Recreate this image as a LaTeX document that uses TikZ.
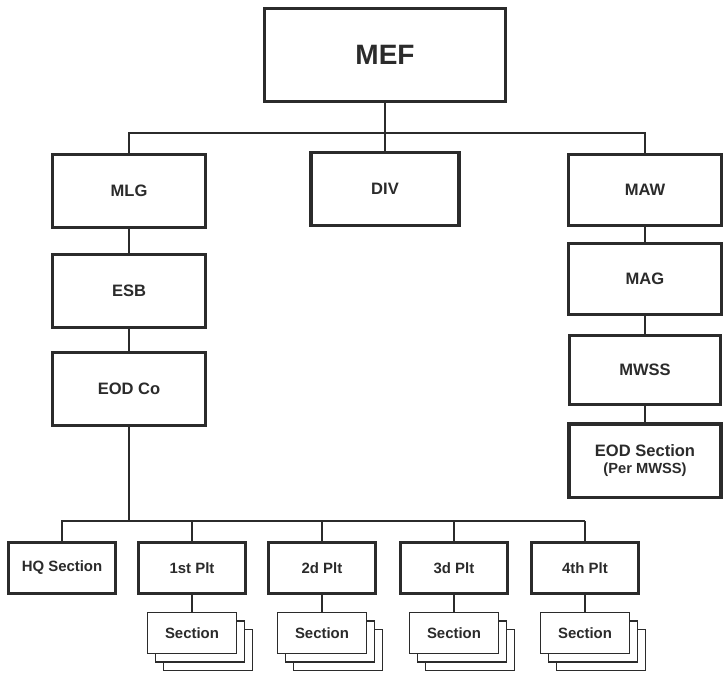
\documentclass[tikz,border=0pt]{standalone}
\usepackage{fontspec}
\setmainfont{Liberation Sans}
\definecolor{ink}{HTML}{2B2B2B}
\tikzset{
	unitbox/.style={draw=ink, line width=2.5pt, fill=white, inner sep=0pt, text=ink,
		minimum width=115pt, minimum height=55pt, font=\bfseries\fontsize{12.4}{14}\selectfont},
	pltbox/.style={unitbox, minimum width=80pt, minimum height=38.5pt, font=\bfseries\fontsize{11.2}{13}\selectfont},
	sectbox/.style={draw=ink, line width=1.1pt, fill=white, inner sep=0pt, text=ink,
		minimum width=66.5pt, minimum height=30.5pt, font=\bfseries\fontsize{11.2}{13}\selectfont},
	link/.style={draw=ink, line width=1.1pt}
}
\begin{document}
\begin{tikzpicture}[x=0.75pt,y=0.75pt,yscale=-1,xscale=1]
				\useasboundingbox (0,0) rectangle (724,672);

				%Top of the chart
				\node [unitbox, minimum width=181pt, minimum height=69.5pt, font=\bfseries\fontsize{21}{24}\selectfont] (MEF) at (385,55) {MEF};
				\coordinate (topbus) at (385,133);

				%Left column
				\node [unitbox] (MLG) at (129,191) {MLG};
				\node [unitbox] (ESB) at (129,291) {ESB};
				\node [unitbox] (EODCo) at (129,389) {EOD Co};
				%Middle
				\node [unitbox, minimum width=111pt] (DIV) at (385,189) {DIV};
				%Right column
				\node [unitbox, minimum height=53pt] (MAW) at (645,190) {MAW};
				\node [unitbox, minimum height=53pt] (MAG) at (645,279) {MAG};
				\node [unitbox, minimum width=113pt, minimum height=52pt] (MWSS) at (645,370) {MWSS};
				\node [unitbox, minimum width=114pt, align=center] (EODSec) at (645,460.5) {EOD Section\\[-1pt]{\fontsize{11}{13}\selectfont (Per MWSS)}};

				%Lines from the top
				\draw [link] (MEF) -- (topbus);
				\draw [link] (MLG.north) |- (topbus) -| (MAW.north);
				\draw [link] (DIV) -- (topbus);
				\draw [link] (MLG) -- (ESB);
				\draw [link] (ESB) -- (EODCo);
				\draw [link] (MAW) -- (MAG);
				\draw [link] (MAG) -- (MWSS);
				\draw [link] (MWSS) -- (EODSec);

				%Company row
				\coordinate (lowbus) at (129,521);
				\node [pltbox] (HQ) at (62,568) {HQ Section};
				\draw [link] (EODCo) -- (lowbus);
				\draw [link] (HQ.north) |- (lowbus);
				\foreach \p/\x/\t in {1/192/1st Plt,2/322/2d Plt,3/454/3d Plt,4/585/4th Plt}{
					\node [pltbox] (P\p) at (\x,568) {\t};
					\draw [link] (P\p.north) -- (P\p.north |- lowbus);
					%stacked sections
					\node [sectbox] (S\p c) at (\x+16,650) {};
					\node [sectbox] (S\p b) at (\x+8,641.5) {};
					\node [sectbox] (S\p) at (\x,633) {Section};
					\draw [link] (P\p) -- (S\p);
				}
				\draw [link] (lowbus) -- (P4.north |- lowbus);

\end{tikzpicture}
\end{document}
